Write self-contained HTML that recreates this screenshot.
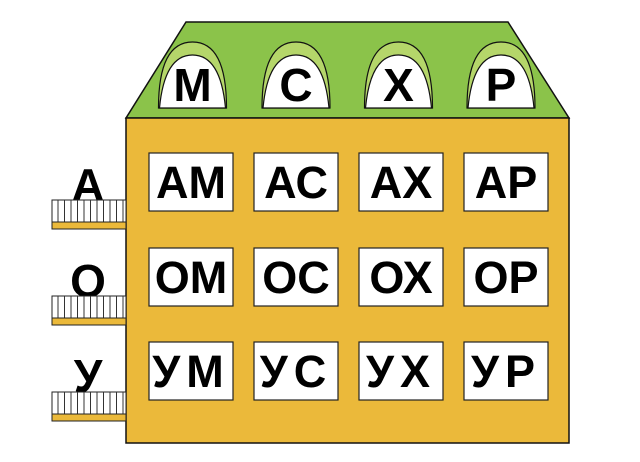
<!DOCTYPE html>
<html><head><meta charset="utf-8"><style>
html,body{margin:0;padding:0;background:#fff;}
svg{display:block;}
text{font-family:"Liberation Sans",Arial,sans-serif;font-weight:bold;fill:#000;text-anchor:middle;}
</style></head><body>
<svg width="640" height="462" viewBox="0 0 640 462" xmlns="http://www.w3.org/2000/svg">
<polygon points="186,22 508,22 569,118 126,118" fill="#8bc34a" stroke="#111" stroke-width="1.5"/>
<g stroke="#111" stroke-width="1.2">
<g transform="translate(192.5,0)"><path d="M-34,108 Q-34,42 0,42 Q34,42 34,108 Z" fill="#b5d66a"/><path d="M-33,108 Q-28,55 0,55 Q28,55 33,108 Z" fill="#fff"/></g>
<g transform="translate(296,0)"><path d="M-34,108 Q-34,42 0,42 Q34,42 34,108 Z" fill="#b5d66a"/><path d="M-33,108 Q-28,55 0,55 Q28,55 33,108 Z" fill="#fff"/></g>
<g transform="translate(398.5,0)"><path d="M-34,108 Q-34,42 0,42 Q34,42 34,108 Z" fill="#b5d66a"/><path d="M-33,108 Q-28,55 0,55 Q28,55 33,108 Z" fill="#fff"/></g>
<g transform="translate(501,0)"><path d="M-34,108 Q-34,42 0,42 Q34,42 34,108 Z" fill="#b5d66a"/><path d="M-33,108 Q-28,55 0,55 Q28,55 33,108 Z" fill="#fff"/></g>
</g>
<g font-size="46">
<text x="192.5" y="101">М</text><text x="296" y="101">С</text><text x="398.5" y="101">Х</text><text x="501" y="101">Р</text>
</g>
<rect x="126" y="118" width="443" height="325" fill="#ebb93a" stroke="#111" stroke-width="1.5"/>
<g fill="#fff" stroke="#222" stroke-width="1.2">
<rect x="149" y="153" width="84" height="58"/><rect x="254" y="153" width="84" height="58"/><rect x="359" y="153" width="84" height="58"/><rect x="464" y="153" width="84" height="58"/>
<rect x="149" y="248" width="84" height="58"/><rect x="254" y="248" width="84" height="58"/><rect x="359" y="248" width="84" height="58"/><rect x="464" y="248" width="84" height="58"/>
<rect x="149" y="342" width="84" height="58"/><rect x="254" y="342" width="84" height="58"/><rect x="359" y="342" width="84" height="58"/><rect x="464" y="342" width="84" height="58"/>
</g>
<g font-size="45">
<text x="191" y="198">АМ</text><text x="296" y="198">АС</text><text x="401" y="198">АХ</text><text x="506" y="198">АР</text>
<text x="191" y="293">ОМ</text><text x="296" y="293">ОС</text><text x="401" y="293">ОХ</text><text x="506" y="293">ОР</text>
<text x="191" y="387" letter-spacing="6">УМ</text><text x="296" y="387" letter-spacing="6">УС</text><text x="401" y="387" letter-spacing="6">УХ</text><text x="506" y="387" letter-spacing="6">УР</text>
</g>
<g font-size="46">
<text x="88" y="201">А</text><text x="88" y="297">О</text><text x="88" y="392">У</text>
</g>
<defs>
<g id="bal">
<rect x="52" y="0" width="74" height="22" fill="#fff" stroke="#222" stroke-width="1"/>
<path d="M58,0V22M64.5,0V22M71,0V22M77.5,0V22M84,0V22M90.5,0V22M97,0V22M103.5,0V22M110,0V22M116.5,0V22M123,0V22" stroke="#333" stroke-width="1"/>
<rect x="52" y="22" width="74" height="7" fill="#ebb93a" stroke="#222" stroke-width="1"/>
</g>
</defs>
<use href="#bal" y="200"/>
<use href="#bal" y="296"/>
<use href="#bal" y="392"/>
</svg>
</body></html>
